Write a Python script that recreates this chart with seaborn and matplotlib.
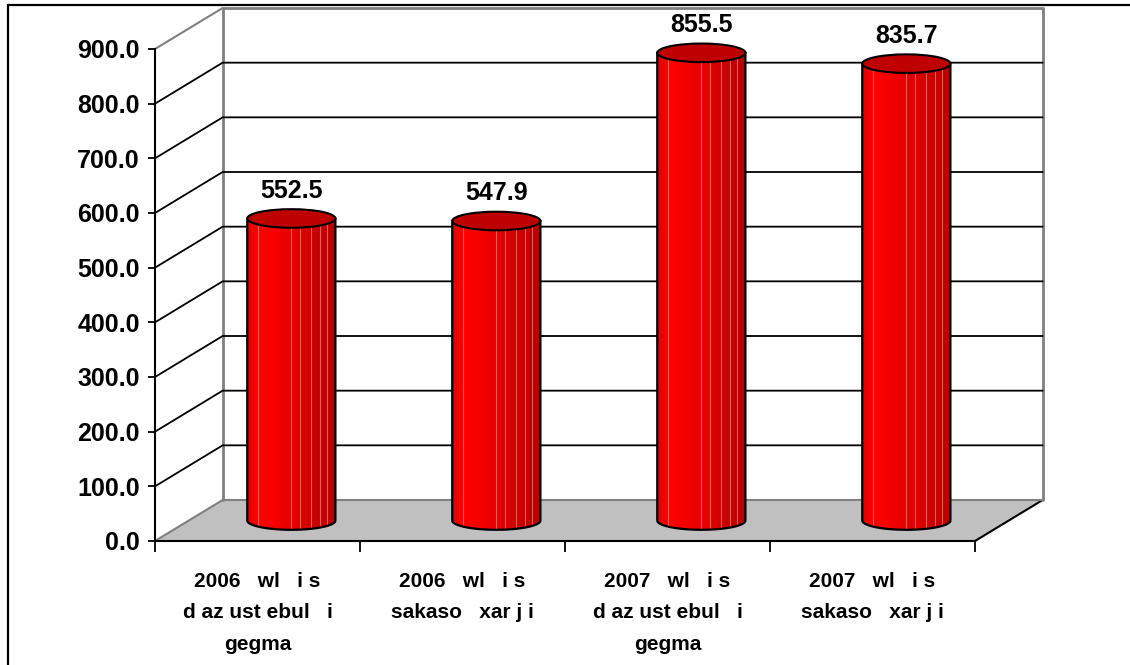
import numpy as np
import matplotlib
matplotlib.use("Agg")
import matplotlib.pyplot as plt
import seaborn as sns
from matplotlib.patches import Polygon, Ellipse, PathPatch, Rectangle
from matplotlib.path import Path
from matplotlib.colors import LinearSegmentedColormap

# data
categories = [
    "2006   wl   i s\nd az ust ebul   i\ngegma",
    "2006   wl   i s\nsakaso   xar j i",
    "2007   wl   i s\nd az ust ebul   i\ngegma",
    "2007   wl   i s\nsakaso   xar j i",
]
values = [552.5, 547.9, 855.5, 835.7]
y_ticks = [0, 100, 200, 300, 400, 500, 600, 700, 800, 900]

sns.set_style("white")
plt.rcParams['font.family'] = ['Liberation Sans', 'DejaVu Sans']
plt.rcParams['text.color'] = 'black'
plt.rcParams['xtick.color'] = 'black'
plt.rcParams['ytick.color'] = 'black'

fig = plt.figure(figsize=(11.3, 6.65), dpi=100)
ax = fig.add_axes([155 / 1130, 124 / 665, 820 / 1130, 492 / 665])

# fake 3d depth, in data units
DX = 0.33
DY = 75.0
EH = 34.0
n = len(values)
xl, xr = -0.5, n - 0.5
ymax = y_ticks[-1]

# bars drawn by seaborn, then turned into cylinders
sns.barplot(x=categories, y=values, color='red', width=0.43, saturation=1, ax=ax)
bars = list(ax.patches)

# floor
ax.add_patch(Polygon([(xl, 0), (xr, 0), (xr + DX, DY), (xl + DX, DY)], closed=True,
                     fc='#c0c0c0', ec='none', zorder=0, clip_on=False))
ax.plot([xr, xr + DX], [0, DY], color='black', lw=1.5, zorder=1, clip_on=False)
ax.plot([xl, xl + DX, xr + DX], [0, DY, DY], color='#808080', lw=1.5, zorder=1, clip_on=False)

# back wall + side wall grid
ax.plot([xl + DX, xl + DX, xr + DX, xr + DX], [DY, ymax + DY, ymax + DY, DY],
        color='#808080', lw=2, zorder=1, clip_on=False)
ax.plot([xl, xl + DX], [ymax, ymax + DY], color='#808080', lw=1.5, zorder=1, clip_on=False)
for t in y_ticks[1:-1]:
    ax.plot([xl, xl + DX, xr + DX], [t, t + DY, t + DY], color='black', lw=1.3,
            zorder=1, clip_on=False)

red_cmap = LinearSegmentedColormap.from_list(
    'cyl', [(0, '#e00000'), (0.12, '#ff0000'), (0.3, '#f60000'),
            (0.6, '#dc0000'), (1.0, '#b50000')])
grad = red_cmap(np.linspace(0, 1, 200))[np.newaxis, :, :3]
stripes = [0.12, 0.5, 0.6, 0.72, 0.82, 0.9]

for rect, v in zip(bars, values):
    rect.set_visible(False)
    w = rect.get_width()
    x0 = rect.get_x() + DX / 2
    cx = x0 + w / 2
    base = DY / 2
    top = base + v

    tt = np.linspace(0, np.pi, 60)
    verts = [(x0, top), (x0, base)]
    verts += [(cx - w / 2 * np.cos(a), base - EH / 2 * np.sin(a)) for a in tt]
    verts += [(x0 + w, top), (x0, top)]
    body = PathPatch(Path(verts, closed=True), fc='none', ec='black', lw=1.6,
                     zorder=5, clip_on=False)
    ax.add_patch(body)

    im = ax.imshow(grad, extent=[x0, x0 + w, base - EH / 2, top], aspect='auto',
                   interpolation='bilinear', zorder=4)
    im.set_clip_path(body)

    for f in stripes:
        xs = x0 + f * w
        yb = base - EH / 2 * np.sqrt(max(0.0, 1 - ((xs - cx) / (w / 2)) ** 2))
        ax.plot([xs, xs], [yb, top], color='#ff8080', lw=0.8, alpha=0.7, zorder=4.5)

    ax.add_patch(Ellipse((cx, top), w, EH, fc='#bf0000', ec='black', lw=1.5,
                         zorder=6, clip_on=False))
    ax.annotate(f"{v:.1f}", (cx, top), xytext=(0, 20), textcoords='offset points',
                ha='center', va='center', fontsize=18, fontweight='bold',
                annotation_clip=False)

ax.set_xlim(xl, xr)
ax.set_ylim(0, ymax)

# axes, ticks
for s in ['top', 'right']:
    ax.spines[s].set_visible(False)
ax.spines['left'].set_color('black')
ax.spines['left'].set_linewidth(1.5)
ax.spines['bottom'].set_color('black')
ax.spines['bottom'].set_linewidth(1.5)

ax.set_yticks(y_ticks)
ax.set_yticklabels([f"{t:.1f}" for t in y_ticks], fontsize=18, fontweight='bold')
ax.tick_params(axis='y', direction='out', length=5, width=1.3, pad=6, left=True)

ax.set_xticks(np.arange(-0.5, n, 1.0))
ax.set_xticklabels([])
ax.set_xticks(range(n), minor=True)
ax.set_xticklabels(categories, minor=True, fontsize=15, fontweight='bold',
                   linespacing=1.85)
ax.tick_params(axis='x', which='major', direction='out', length=8, width=1.3, bottom=True)
ax.tick_params(axis='x', which='minor', length=0, pad=22)
ax.set_xlabel('')
ax.set_ylabel('')
ax.grid(False)

# outer chart frame
fig.add_artist(Rectangle((8 / 1130, -0.1), 2, 1.1 - 5 / 665, transform=fig.transFigure,
                         fill=False, ec='black', lw=1.6))

fig.savefig('out.png', dpi=100)
